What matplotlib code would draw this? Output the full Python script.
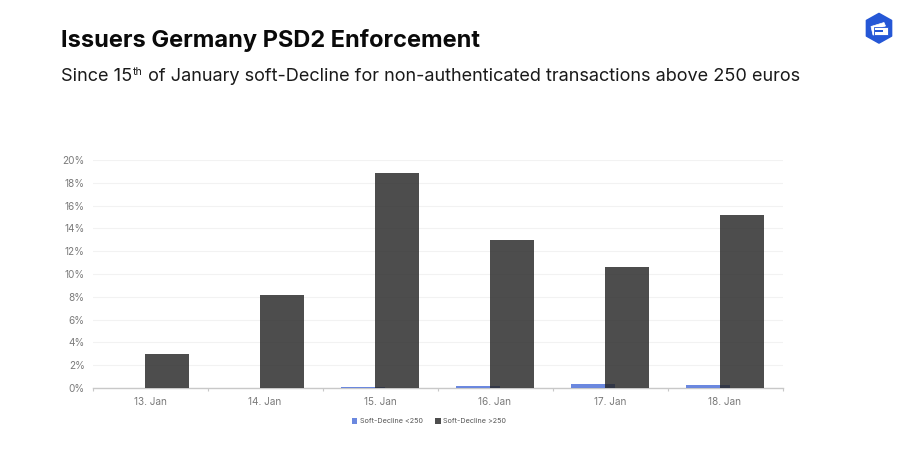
import matplotlib
matplotlib.use("Agg")
import matplotlib.pyplot as plt
from matplotlib.patches import Polygon, Rectangle
from matplotlib.ticker import FuncFormatter, MultipleLocator

days = ["13. Jan", "14. Jan", "15. Jan", "16. Jan", "17. Jan", "18. Jan"]
below_250 = [0.0, 0.0, 0.1, 0.2, 0.35, 0.22]
above_250 = [3.0, 8.2, 18.85, 13.0, 10.6, 15.15]
series_names = ["Soft-Decline <250", "Soft-Decline >250"]
title = "Issuers Germany PSD2 Enforcement"
sub_a, sub_b, sub_c = "Since 15", "th", " of January soft-Decline for non-authenticated transactions above 250 euros"

W, H = 900, 450
plt.rcParams["font.family"] = ["Inter", "DejaVu Sans"]
fig = plt.figure(figsize=(9, 4.5), dpi=100, facecolor="white")
ax = fig.add_axes([92.5 / W, 1 - 388 / H, 690 / W, 228 / H])

x = list(range(len(days)))
off, w = 0.148, 0.39
ax.bar([i - off for i in x], below_250, w, color="#5B7BDC", alpha=0.9, label=series_names[0], zorder=3)
ax.bar([i + off for i in x], above_250, w, color="#262626", alpha=0.82, label=series_names[1], zorder=4)

ax.set_xlim(-0.5, 5.5)
ax.set_ylim(0, 20)
ax.yaxis.set_major_locator(MultipleLocator(2))
ax.yaxis.set_major_formatter(FuncFormatter(lambda v, _: f"{v:.0f}%"))
ax.set_xticks(x)
ax.set_xticklabels(days)
ax.set_xticks([i - 0.5 for i in range(7)], minor=True)
ax.tick_params(axis="x", which="major", length=0, labelsize=7.2, labelcolor="#7a7a7a", pad=6.5)
ax.tick_params(axis="x", which="minor", length=2.2, color="#c8c8c8", width=0.8)
ax.tick_params(axis="y", length=0, labelsize=7.2, labelcolor="#7a7a7a", pad=5.5)
ax.grid(axis="y", color="#f2f2f2", lw=0.8, zorder=0)
ax.set_axisbelow(True)
for s in ["top", "right", "left"]:
    ax.spines[s].set_visible(False)
ax.spines["bottom"].set_color("#c8c8c8")
ax.spines["bottom"].set_linewidth(1)

fig.legend(loc="center", bbox_to_anchor=(429 / W, 1 - 421 / H), ncol=2, frameon=False,
           fontsize=5.2, labelcolor="#555555", handlelength=0.8, handleheight=0.9,
           handletextpad=0.35, columnspacing=1.7, borderpad=0)

def px(xp, yp, s, **kw):
    return fig.text(xp / W, 1 - yp / H, s, va="baseline", **kw)

px(61, 47, title, fontsize=17.0, fontweight="bold", color="#0a0a0a")
t1 = px(61, 81, sub_a, fontsize=13.05, color="#1a1a1a")
r = fig.canvas.get_renderer()
e1 = t1.get_window_extent(r).x1
t2 = px(e1 + 0.5, 75, sub_b, fontsize=7.6, color="#1a1a1a")
e2 = t2.get_window_extent(r).x1
px(e2, 81, sub_c, fontsize=13.05, color="#1a1a1a")

logo = fig.add_axes([860 / W, 1 - 48 / H, 38 / W, 38 / H])
logo.set_xlim(860, 898)
logo.set_ylim(48, 10)
logo.axis("off")
logo.add_patch(Polygon([(879, 13.5), (891.5, 20.5), (891.5, 36), (879, 43), (866.5, 36), (866.5, 20.5)],
                       closed=True, fc="#2557D6", ec="#2557D6", lw=1.2, joinstyle="round"))
logo.add_patch(Polygon([(871, 26.5), (884, 22.5), (885.5, 26), (874, 30), (874, 35), (873, 35)],
                       closed=True, fc="white", ec="white", lw=0.5))
logo.add_patch(Rectangle((874, 27), 14, 8, fc="white", ec="#2557D6", lw=0.6))
logo.add_patch(Rectangle((875.5, 30), 8, 1.6, fc="#2557D6", ec="none"))

fig.savefig("out.png", dpi=100, facecolor="white")
